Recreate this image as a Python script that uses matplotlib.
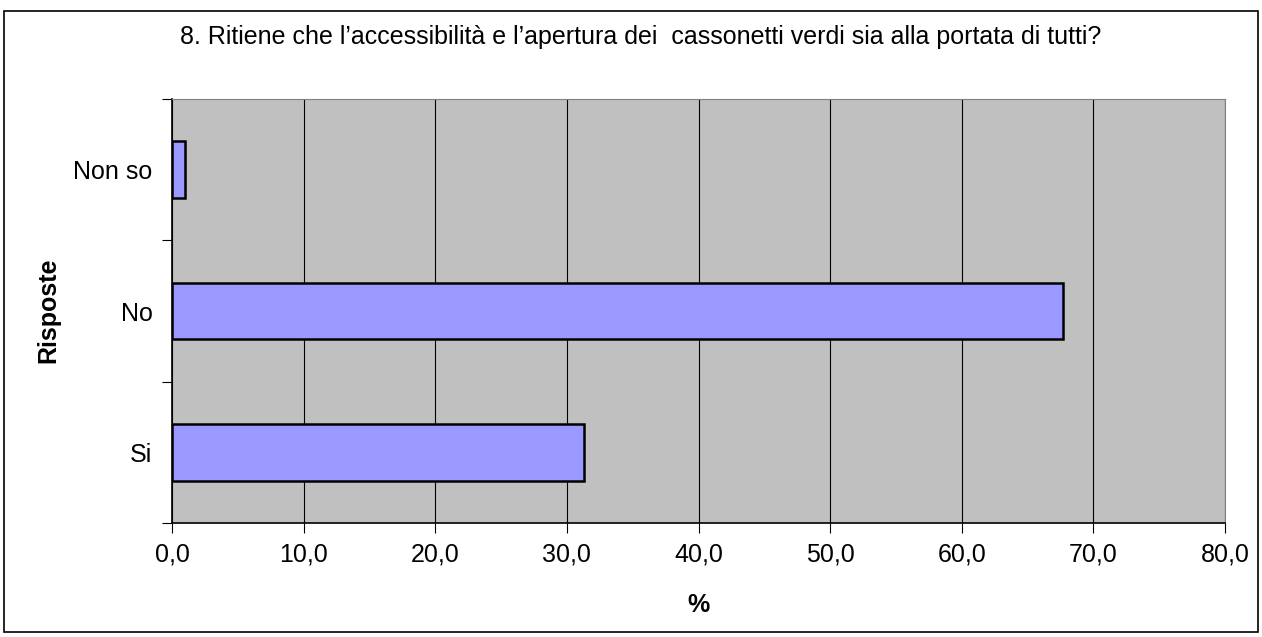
import matplotlib.pyplot as plt
from matplotlib.patches import Rectangle
from matplotlib.ticker import FuncFormatter

plt.rcParams['font.family'] = ['Liberation Sans', 'DejaVu Sans']

categories = ['Si', 'No', 'Non so']
values = [31.3, 67.7, 1.0]
xticks = [0, 10, 20, 30, 40, 50, 60, 70, 80]

fig = plt.figure(figsize=(12.62, 6.37), dpi=100)
# outer frame of the chart object
fig.patches.append(Rectangle((4 / 1262, 5 / 637), 1254 / 1262, 621 / 637,
                             transform=fig.transFigure, fill=False,
                             edgecolor='black', linewidth=1.2))

ax = fig.add_axes([172 / 1262, 1 - 523 / 637, 1053 / 1262, 424 / 637])
ax.set_facecolor('#C0C0C0')

pos = list(range(len(categories)))
ax.barh(pos, values, height=0.4, color='#9999FF', edgecolor='black', linewidth=1.8, zorder=3)

ax.set_xlim(0, 80)
ax.set_ylim(-0.5, len(categories) - 0.5)
ax.set_xticks(xticks)
ax.xaxis.set_major_formatter(FuncFormatter(lambda v, p: f'{v:.1f}'.replace('.', ',')))
ax.grid(axis='x', color='black', linewidth=0.8, zorder=1)

# ticks between categories, labels at category centres
ax.set_yticks([p - 0.5 for p in pos] + [len(categories) - 0.5])
ax.set_yticklabels([])
ax.set_yticks(pos, minor=True)
ax.set_yticklabels(categories, minor=True)
ax.tick_params(axis='y', which='minor', length=0, pad=14, labelsize=18)
ax.tick_params(axis='y', which='major', length=7, width=0.8)
ax.tick_params(axis='x', length=7, width=0.8, pad=7, labelsize=18)

for s in ['top', 'right']:
    ax.spines[s].set_color('#808080')
for s in ['left', 'bottom']:
    ax.spines[s].set_linewidth(1.2)

fig.text(641 / 1262, 1 - 37 / 637, "8. Ritiene che l\u2019accessibilit\u00e0 e l\u2019apertura dei  cassonetti verdi sia alla portata di tutti?",
         ha='center', va='center', fontsize=18)
fig.text(698 / 1262, 1 - 605 / 637, '%', ha='center', va='center', fontsize=18, fontweight='bold')
fig.text(48 / 1262, 1 - 310 / 637, 'Risposte', ha='center', va='center', rotation=90,
         fontsize=18, fontweight='bold')

fig.savefig('out.png', dpi=100)
